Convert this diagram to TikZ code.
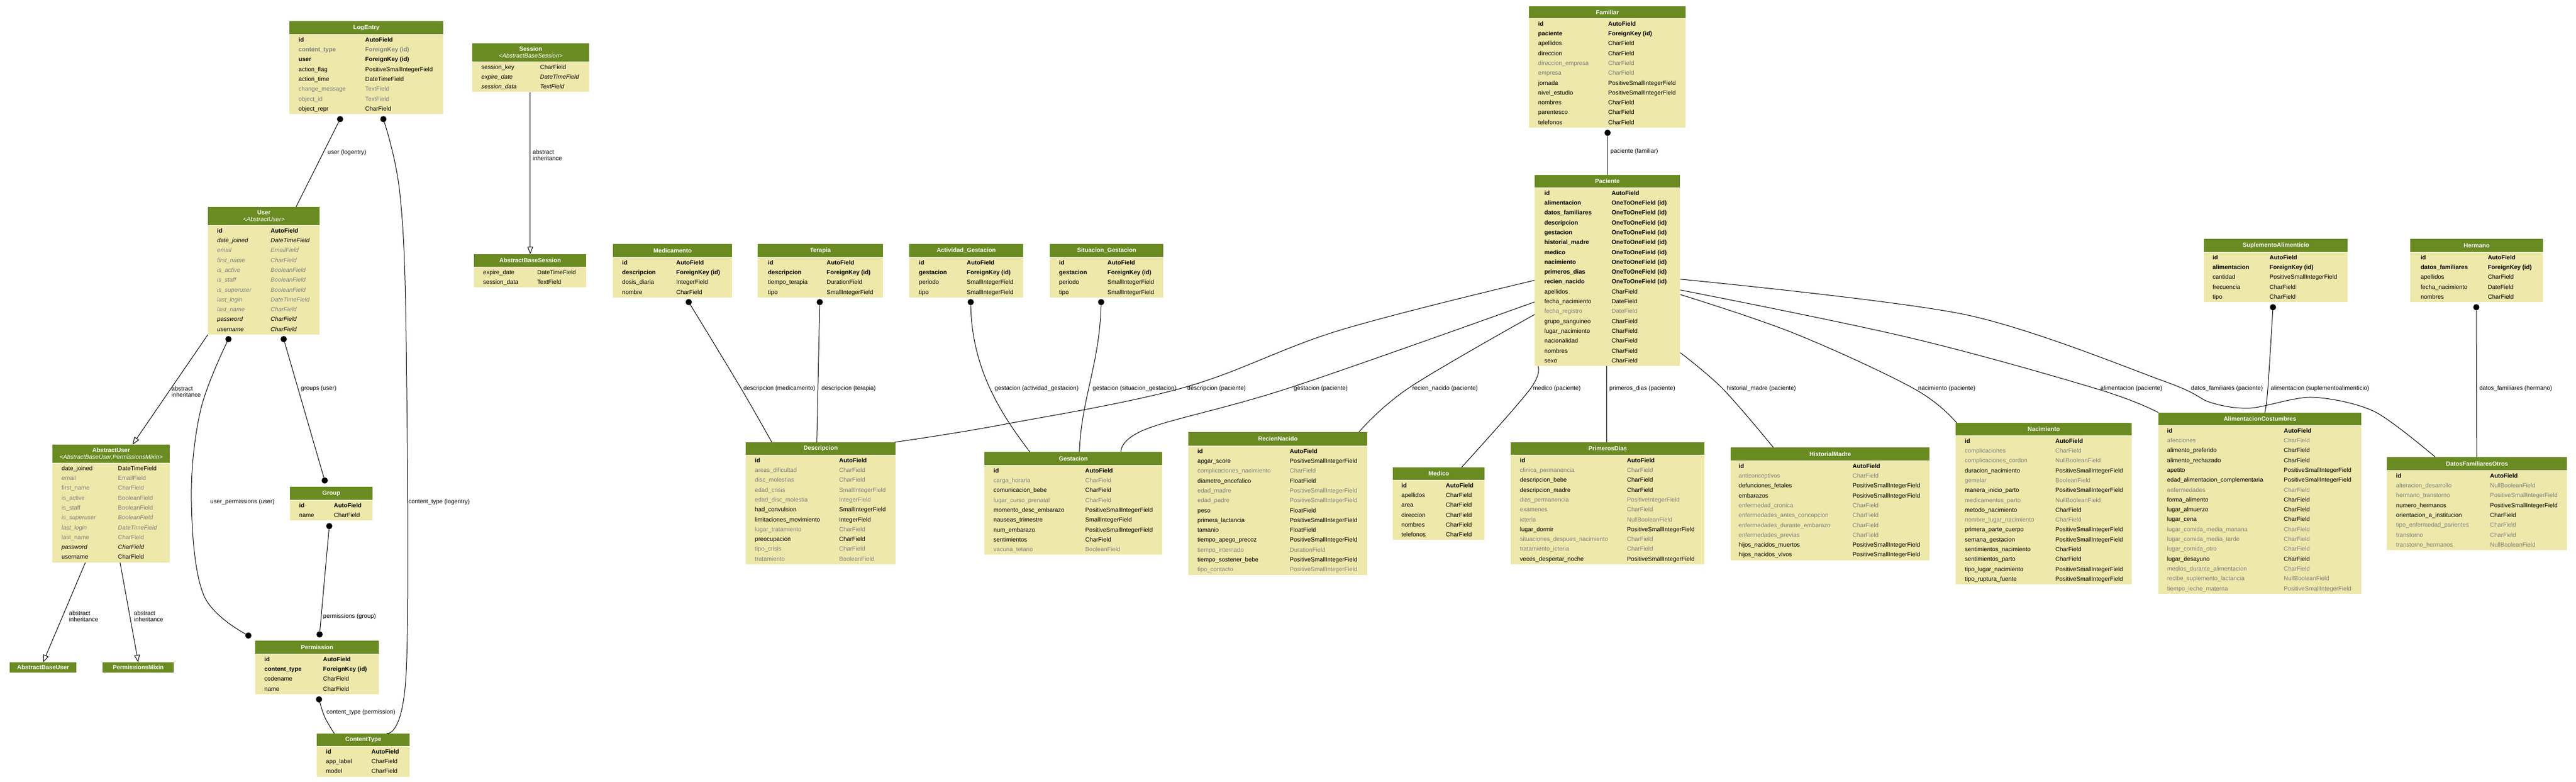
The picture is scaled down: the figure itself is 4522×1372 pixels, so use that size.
\documentclass[tikz,border=0pt]{standalone}
\usepackage{fontspec}
\setmainfont{Liberation Sans}
\usetikzlibrary{fit,arrows.meta}
\definecolor{hdrgreen}{HTML}{698B22}
\definecolor{bodyyel}{HTML}{EEE8AA}
\definecolor{txtgray}{HTML}{808080}
\newcommand\fN[2]{#1 & #2\\}
\newcommand\fB[2]{\textbf{#1} & \textbf{#2}\\}
\newcommand\fG[2]{\textcolor{txtgray}{#1} & \textcolor{txtgray}{#2}\\}
\newcommand\fGB[2]{\textcolor{txtgray}{\textbf{#1}} & \textcolor{txtgray}{\textbf{#2}}\\}
\newcommand\fI[2]{\textit{#1} & \textit{#2}\\}
\newcommand\fGI[2]{\textcolor{txtgray}{\textit{#1}} & \textcolor{txtgray}{\textit{#2}}\\}
\newcommand\mtab[9]{%
 \node[hdr, minimum width=#4pt, minimum height=#5pt, anchor=north west] (#1h) at (#2,#3) {#8};
 \node[bod, anchor=north west] (#1b) at (#1h.south west) {\makebox[#4pt][l]{\begin{tabular}{@{\hspace{#6pt}}p{#7pt}@{}l@{}}#9\end{tabular}}};
 \node[fit=(#1h)(#1b), inner sep=0pt] (#1) {};
}
\tikzset{
 hdr/.style={fill=hdrgreen, text=white, font=\bfseries\fontsize{10.5}{12}\selectfont, inner sep=0pt, align=center},
 bod/.style={fill=bodyyel, inner xsep=0pt, inner ysep=0.5pt, font=\fontsize{10.5}{17.3}\selectfont},
 conn/.style={draw=black, line width=1pt},
 inh/.style={conn, -{Triangle[open, length=13pt, width=10pt, fill=white]}},
 dotn/.style={circle, fill=black, inner sep=0pt, minimum size=11pt},
 elab/.style={font=\fontsize{10.5}{11.5}\selectfont, anchor=west, inner sep=0pt, align=left},
}
\begin{document}
\catcode`\_=12
\begin{tikzpicture}[x=1pt, y=-1pt]
\fill[white] (0,0) rectangle (4522,1372);
\useasboundingbox (0,0) rectangle (4522,1372);

% ---------- tables ----------
\mtab{LogEntry}{508}{37}{270}{23}{16}{117}{LogEntry}{\fB{id}{AutoField}\fGB{content_type}{ForeignKey (id)}\fB{user}{ForeignKey (id)}\fN{action_flag}{PositiveSmallIntegerField}\fN{action_time}{DateTimeField}\fG{change_message}{TextField}\fG{object_id}{TextField}\fN{object_repr}{CharField}}

\mtab{Session}{829}{76}{205}{32}{16}{103}{Session\\{\mdseries\itshape \textless AbstractBaseSession\textgreater}}{\fN{session_key}{CharField}\fI{expire_date}{DateTimeField}\fI{session_data}{TextField}}

\mtab{ABS}{832}{446}{197}{22}{16}{95}{AbstractBaseSession}{\fN{expire_date}{DateTimeField}\fN{session_data}{TextField}}

\mtab{User}{365}{363}{196}{32}{16}{94}{User\\{\mdseries\itshape \textless AbstractUser\textgreater}}{\fB{id}{AutoField}\fI{date_joined}{DateTimeField}\fGI{email}{EmailField}\fGI{first_name}{CharField}\fGI{is_active}{BooleanField}\fGI{is_staff}{BooleanField}\fGI{is_superuser}{BooleanField}\fGI{last_login}{DateTimeField}\fGI{last_name}{CharField}\fI{password}{CharField}\fI{username}{CharField}}

\mtab{AbstractUser}{92}{780}{206}{32}{16}{99}{AbstractUser\\{\mdseries\itshape \textless AbstractBaseUser,PermissionsMixin\textgreater}}{\fN{date_joined}{DateTimeField}\fG{email}{EmailField}\fG{first_name}{CharField}\fG{is_active}{BooleanField}\fG{is_staff}{BooleanField}\fGI{is_superuser}{BooleanField}\fGI{last_login}{DateTimeField}\fG{last_name}{CharField}\fI{password}{CharField}\fN{username}{CharField}}

\mtab{Group}{509}{854}{145}{23}{16}{61}{Group}{\fB{id}{AutoField}\fN{name}{CharField}}

\mtab{Permission}{448}{1124}{217}{23}{16}{103}{Permission}{\fB{id}{AutoField}\fB{content_type}{ForeignKey (id)}\fN{codename}{CharField}\fN{name}{CharField}}

\mtab{ContentType}{556}{1287}{163}{22}{16}{80}{ContentType}{\fB{id}{AutoField}\fN{app_label}{CharField}\fN{model}{CharField}}

\node[hdr, minimum width=117pt, minimum height=18pt, anchor=north west] (AbstractBaseUser) at (17,1162) {AbstractBaseUser};
\node[hdr, minimum width=125pt, minimum height=18pt, anchor=north west] (PermissionsMixin) at (180,1162) {PermissionsMixin};

\mtab{Familiar}{2684}{11}{275}{21}{16}{123}{Familiar}{\fB{id}{AutoField}\fB{paciente}{ForeignKey (id)}\fN{apellidos}{CharField}\fN{direccion}{CharField}\fG{direccion_empresa}{CharField}\fG{empresa}{CharField}\fN{jornada}{PositiveSmallIntegerField}\fN{nivel_estudio}{PositiveSmallIntegerField}\fN{nombres}{CharField}\fN{parentesco}{CharField}\fN{telefonos}{CharField}}

\mtab{Paciente}{2694}{307}{255}{22}{17}{118}{Paciente}{\fB{id}{AutoField}\fB{alimentacion}{OneToOneField (id)}\fB{datos_familiares}{OneToOneField (id)}\fB{descripcion}{OneToOneField (id)}\fB{gestacion}{OneToOneField (id)}\fB{historial_madre}{OneToOneField (id)}\fB{medico}{OneToOneField (id)}\fB{nacimiento}{OneToOneField (id)}\fB{primeros_dias}{OneToOneField (id)}\fB{recien_nacido}{OneToOneField (id)}\fN{apellidos}{CharField}\fN{fecha_nacimiento}{DateField}\fG{fecha_registro}{DateField}\fN{grupo_sanguineo}{CharField}\fN{lugar_nacimiento}{CharField}\fN{nacionalidad}{CharField}\fN{nombres}{CharField}\fN{sexo}{CharField}}

\mtab{Medicamento}{1076}{428}{209}{23}{16}{95}{Medicamento}{\fB{id}{AutoField}\fB{descripcion}{ForeignKey (id)}\fN{dosis_diaria}{IntegerField}\fN{nombre}{CharField}}

\mtab{Terapia}{1330}{428}{220}{23}{18}{103}{Terapia}{\fB{id}{AutoField}\fB{descripcion}{ForeignKey (id)}\fN{tiempo_terapia}{DurationField}\fN{tipo}{SmallIntegerField}}

\mtab{ActGest}{1596}{428}{200}{23}{17}{84}{Actividad_Gestacion}{\fB{id}{AutoField}\fB{gestacion}{ForeignKey (id)}\fN{periodo}{SmallIntegerField}\fN{tipo}{SmallIntegerField}}

\mtab{SitGest}{1843}{428}{199}{23}{16}{85}{Situacion_Gestacion}{\fB{id}{AutoField}\fB{gestacion}{ForeignKey (id)}\fN{periodo}{SmallIntegerField}\fN{tipo}{SmallIntegerField}}

\mtab{Descripcion}{1309}{776}{263}{22}{16}{148}{Descripcion}{\fB{id}{AutoField}\fG{areas_dificultad}{CharField}\fG{disc_molestias}{CharField}\fG{edad_crisis}{SmallIntegerField}\fG{edad_disc_molestia}{IntegerField}\fN{had_convulsion}{SmallIntegerField}\fN{limitaciones_movimiento}{IntegerField}\fG{lugar_tratamiento}{CharField}\fN{preocupacion}{CharField}\fG{tipo_crisis}{CharField}\fG{tratamiento}{BooleanField}}

\mtab{Gestacion}{1728}{793}{312}{23}{16}{161}{Gestacion}{\fB{id}{AutoField}\fG{carga_horaria}{CharField}\fN{comunicacion_bebe}{CharField}\fG{lugar_curso_prenatal}{CharField}\fN{momento_desc_embarazo}{PositiveSmallIntegerField}\fN{nauseas_trimestre}{SmallIntegerField}\fN{num_embarazo}{PositiveSmallIntegerField}\fN{sentimientos}{CharField}\fG{vacuna_tetano}{BooleanField}}

\mtab{RecienNacido}{2086}{758}{314}{24}{16}{162}{RecienNacido}{\fB{id}{AutoField}\fN{apgar_score}{PositiveSmallIntegerField}\fG{complicaciones_nacimiento}{CharField}\fN{diametro_encefalico}{FloatField}\fG{edad_madre}{PositiveSmallIntegerField}\fG{edad_padre}{PositiveSmallIntegerField}\fN{peso}{FloatField}\fN{primera_lactancia}{PositiveSmallIntegerField}\fN{tamanio}{FloatField}\fN{tiempo_apego_precoz}{PositiveSmallIntegerField}\fG{tiempo_internado}{DurationField}\fN{tiempo_sostener_bebe}{PositiveSmallIntegerField}\fG{tipo_contacto}{PositiveSmallIntegerField}}

\mtab{Medico}{2445}{820}{161}{22}{15}{78}{Medico}{\fB{id}{AutoField}\fN{apellidos}{CharField}\fN{area}{CharField}\fN{direccion}{CharField}\fN{nombres}{CharField}\fN{telefonos}{CharField}}

\mtab{PrimerosDias}{2652}{776}{340}{22}{16}{188}{PrimerosDias}{\fB{id}{AutoField}\fG{clinica_permanencia}{CharField}\fN{descripcion_bebe}{CharField}\fN{descripcion_madre}{CharField}\fG{dias_permanencia}{PositiveIntegerField}\fG{examenes}{CharField}\fG{icteria}{NullBooleanField}\fN{lugar_dormir}{PositiveSmallIntegerField}\fG{situaciones_despues_nacimiento}{CharField}\fG{tratamiento_icteria}{CharField}\fN{veces_despertar_noche}{PositiveSmallIntegerField}}

\mtab{HistorialMadre}{3038}{785}{349}{23}{14}{200}{HistorialMadre}{\fB{id}{AutoField}\fG{anticonceptivos}{CharField}\fN{defunciones_fetales}{PositiveSmallIntegerField}\fN{embarazos}{PositiveSmallIntegerField}\fG{enfermedad_cronica}{CharField}\fG{enfermedades_antes_concepcion}{CharField}\fG{enfermedades_durante_embarazo}{CharField}\fG{enfermedades_previas}{CharField}\fN{hijos_nacidos_muertos}{PositiveSmallIntegerField}\fN{hijos_nacidos_vivos}{PositiveSmallIntegerField}}

\mtab{Nacimiento}{3433}{742}{309}{22}{16}{159}{Nacimiento}{\fB{id}{AutoField}\fG{complicaciones}{CharField}\fG{complicaciones_cordon}{NullBooleanField}\fN{duracion_nacimiento}{PositiveSmallIntegerField}\fG{gemelar}{BooleanField}\fN{manera_inicio_parto}{PositiveSmallIntegerField}\fG{medicamentos_parto}{NullBooleanField}\fN{metodo_nacimiento}{CharField}\fG{nombre_lugar_nacimiento}{CharField}\fN{primera_parte_cuerpo}{PositiveSmallIntegerField}\fN{semana_gestacion}{PositiveSmallIntegerField}\fN{sentimientos_nacimiento}{CharField}\fN{sentimientos_parto}{CharField}\fN{tipo_lugar_nacimiento}{PositiveSmallIntegerField}\fN{tipo_ruptura_fuente}{PositiveSmallIntegerField}}

\mtab{AC}{3789}{724}{356}{22}{15}{205}{AlimentacionCostumbres}{\fB{id}{AutoField}\fG{afecciones}{CharField}\fN{alimento_preferido}{CharField}\fN{alimento_rechazado}{CharField}\fN{apetito}{PositiveSmallIntegerField}\fN{edad_alimentacion_complementaria}{PositiveSmallIntegerField}\fG{enfermedades}{CharField}\fN{forma_alimento}{CharField}\fN{lugar_almuerzo}{CharField}\fN{lugar_cena}{CharField}\fG{lugar_comida_media_manana}{CharField}\fG{lugar_comida_media_tarde}{CharField}\fG{lugar_comida_otro}{CharField}\fN{lugar_desayuno}{CharField}\fG{medios_durante_alimentacion}{CharField}\fG{recibe_suplemento_lactancia}{NullBooleanField}\fG{tiempo_leche_materna}{PositiveSmallIntegerField}}

\mtab{DFO}{4190}{802}{316}{23}{16}{165}{DatosFamiliaresOtros}{\fB{id}{AutoField}\fG{alteracion_desarrollo}{NullBooleanField}\fG{hermano_transtorno}{PositiveSmallIntegerField}\fN{numero_hermanos}{PositiveSmallIntegerField}\fN{orientacion_a_institucion}{CharField}\fG{tipo_enfermedad_parientes}{CharField}\fG{transtorno}{CharField}\fG{transtorno_hermanos}{NullBooleanField}}

\mtab{Suplemento}{3869}{419}{252}{23}{15}{100}{SuplementoAlimenticio}{\fB{id}{AutoField}\fB{alimentacion}{ForeignKey (id)}\fN{cantidad}{PositiveSmallIntegerField}\fN{frecuencia}{CharField}\fN{tipo}{CharField}}

\mtab{Hermano}{4231}{419}{233}{23}{18}{118}{Hermano}{\fB{id}{AutoField}\fB{datos_familiares}{ForeignKey (id)}\fN{apellidos}{CharField}\fN{fecha_nacimiento}{DateField}\fN{nombres}{CharField}}

% ---------- dots ----------
\node[dotn] (dLa) at (597,209) {};
\node[dotn] (dLb) at (673,209) {};
\node[dotn] (dUa) at (401,595) {};
\node[dotn] (dUb) at (498,595) {};
\node[dotn] (dGt) at (570,843) {};
\node[dotn] (dGb) at (578,923) {};
\node[dotn] (dPa) at (436,1115) {};
\node[dotn] (dPb) at (561,1113) {};
\node[dotn] (dPc) at (560,1227) {};
\node[dotn] (dMed) at (1209,530) {};
\node[dotn] (dTer) at (1439,530) {};
\node[dotn] (dAct) at (1704,530) {};
\node[dotn] (dSit) at (1933,530) {};
\node[dotn] (dFam) at (2822,233) {};
\node[dotn] (dSup) at (3990,539) {};
\node[dotn] (dHer) at (4347,539) {};

% ---------- anchor points ----------
\coordinate (uTop) at ([xshift=155pt]User.north west);
\coordinate (auTop) at ([xshift=141pt]AbstractUser.north west);
\coordinate (auB1) at ([xshift=58pt]AbstractUser.south west);
\coordinate (auB2) at ([xshift=119pt]AbstractUser.south west);
\coordinate (sBot) at ([xshift=102pt]Session.south west);
\coordinate (absTop) at ([xshift=99pt]ABS.north west);
\coordinate (ctT1) at ([xshift=31pt]ContentType.north west);
\coordinate (ctT2) at ([xshift=123pt]ContentType.north west);
\coordinate (descT1) at ([xshift=46pt]Descripcion.north west);
\coordinate (descT2) at ([xshift=125pt]Descripcion.north west);
\coordinate (descT3) at ([xshift=-2pt]Descripcion.north east);
\coordinate (gT1) at ([xshift=80pt]Gestacion.north west);
\coordinate (gT2) at ([xshift=167pt]Gestacion.north west);
\coordinate (gT3) at ([xshift=240pt]Gestacion.north west);
\coordinate (rnT) at ([xshift=-15pt]RecienNacido.north east);
\coordinate (mT) at ([xshift=121pt]Medico.north west);
\coordinate (pdT) at ([xshift=169pt]PrimerosDias.north west);
\coordinate (hmT) at ([xshift=75pt]HistorialMadre.north west);
\coordinate (nT) at ([xshift=2pt]Nacimiento.north west);
\coordinate (acT1) at (AC.north west);
\coordinate (acT2) at ([xshift=187pt]AC.north west);
\coordinate (dfT1) at ([xshift=85pt]DFO.north west);
\coordinate (dfT2) at ([xshift=158pt]DFO.north west);
\coordinate (pLd) at ([yshift=-185pt]Paciente.north west);
\coordinate (pLg) at ([yshift=-223pt]Paciente.north west);
\coordinate (pLr) at ([yshift=-245pt]Paciente.north west);
\coordinate (pBm) at ([xshift=6pt]Paciente.south west);
\coordinate (pBp) at ([xshift=127pt]Paciente.south west);
\coordinate (pRf) at ([yshift=-183pt]Paciente.north east);
\coordinate (pRa) at ([yshift=-202pt]Paciente.north east);
\coordinate (pRn) at ([yshift=-210pt]Paciente.north east);
\coordinate (pRh) at ([yshift=-312pt]Paciente.north east);
\coordinate (pT) at ([xshift=128pt]Paciente.north west);

% ---------- connectors ----------
\draw[conn] (dLa) -- (uTop);
\node[elab] (l1) at (575,268) {user (logentry)};
\draw[conn] plot[smooth, tension=0.6] coordinates {(dLb) (702,340) (713,600) (713,1180) (ctT2)};
\node[elab] (l2) at (717,881) {content_type (logentry)};
\draw[conn] (dUb) -- (dGt);
\node[elab] (l3) at (528,682) {groups (user)};
\draw[conn] plot[smooth, tension=0.6] coordinates {(dUa) (352,720) (336,880) (358,1045) (dPa)};
\node[elab] (l4) at (369,881) {user_permissions (user)};
\draw[conn] (dGb) -- (dPb);
\node[elab] (l5) at (567,1082) {permissions (group)};
\draw[conn] plot[smooth, tension=0.6] coordinates {(dPc) (570,1258) (ctT1)};
\node[elab] (l6) at (573,1250) {content_type (permission)};

\draw[inh] (sBot) -- (absTop);
\node[elab] (l7) at (935,272) {abstract\\inheritance};
\draw[inh] (User.south west) -- (auTop);
\node[elab] (l8) at (301,687) {abstract\\inheritance};
\draw[inh] (auB1) -- (AbstractBaseUser.north);
\node[elab] (l9) at (121,1081) {abstract\\inheritance};
\draw[inh] (auB2) -- (PermissionsMixin.north);
\node[elab] (l10) at (235,1081) {abstract\\inheritance};

\draw[conn] plot[smooth, tension=0.6] coordinates {(dMed) (1300,680) (descT1)};
\node[elab] (l11) at (1305,682) {descripcion (medicamento)};
\draw[conn] (dTer) -- (descT2);
\node[elab] (l12) at (1442,682) {descripcion (terapia)};
\draw[conn] (dAct) .. controls (1706,650) and (1760,730) .. (gT1);
\node[elab] (l13) at (1746,682) {gestacion (actividad_gestacion)};
\draw[conn] (dSit) .. controls (1930,640) and (1898,700) .. (gT2);
\node[elab] (l14) at (1918,682) {gestacion (situacion_gestacion)};

\draw[conn] plot[smooth, tension=0.6] coordinates {(pLd) (2350,580) (2078,680) (1760,745) (descT3)};
\node[elab] (l15) at (2084,682) {descripcion (paciente)};
\draw[conn] plot[smooth, tension=0.6] coordinates {(pLg) (2265,680) (2014,752) (gT3)};
\node[elab] (l16) at (2271,682) {gestacion (paciente)};
\draw[conn] plot[smooth, tension=0.6] coordinates {(pLr) (2474,680) (rnT)};
\node[elab] (l17) at (2479,682) {recien_nacido (paciente)};
\draw[conn] plot[smooth, tension=0.6] coordinates {(pBm) (2685,684) (mT)};
\node[elab] (l18) at (2691,682) {medico (paciente)};
\draw[conn] (pBp) -- (pdT);
\node[elab] (l19) at (2825,682) {primeros_dias (paciente)};
\draw[conn] plot[smooth, tension=0.6] coordinates {(pRh) (3024,682) (hmT)};
\node[elab] (l20) at (3031,682) {historial_madre (paciente)};
\draw[conn] plot[smooth, tension=0.6] coordinates {(pRn) (3150,585) (3360,682) (nT)};
\node[elab] (l21) at (3367,682) {nacimiento (paciente)};
\draw[conn] plot[smooth, tension=0.6] coordinates {(pRa) (3350,592) (3680,682) (acT1)};
\node[elab] (l22) at (3687,682) {alimentacion (paciente)};
\draw[conn] plot[smooth, tension=0.5] coordinates {(pRf) (3450,552) (3802,670) (3880,706) (3950,716) (4058,697) (4168,722) (dfT1)};
\node[elab] (l23) at (3846,682) {datos_familiares (paciente)};
\draw[conn] (dFam) -- (pT);
\node[elab] (l24) at (2827,266) {paciente (familiar)};
\draw[conn] plot[smooth, tension=0.6] coordinates {(dSup) (3981,682) (acT2)};
\node[elab] (l25) at (3986,682) {alimentacion (suplementoalimenticio)};
\draw[conn] (dHer) -- (dfT2);
\node[elab] (l26) at (4352,682) {datos_familiares (hermano)};
\end{tikzpicture}
\end{document}
